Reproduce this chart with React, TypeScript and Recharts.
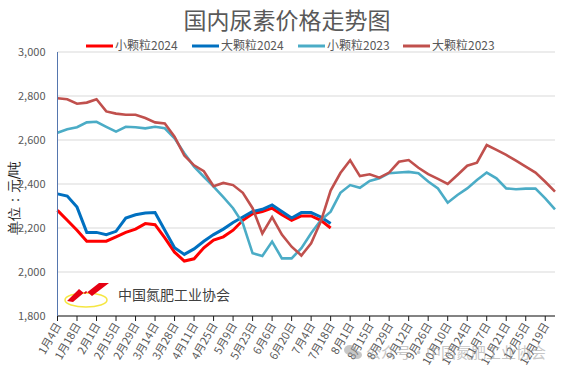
import React from "react";
import { LineChart, Line, XAxis, YAxis, CartesianGrid } from "recharts";

const categories = [
  "1月4日", "1月11日", "1月18日", "1月25日", "2月1日", "2月8日", "2月15日", "2月22日", "2月29日",
  "3月7日", "3月14日", "3月21日", "3月28日", "4月4日", "4月11日", "4月18日", "4月25日",
  "5月2日", "5月9日", "5月16日", "5月23日", "5月30日", "6月6日", "6月13日", "6月20日", "6月27日",
  "7月4日", "7月11日", "7月18日", "7月25日", "8月1日", "8月8日", "8月15日", "8月22日", "8月29日",
  "9月5日", "9月12日", "9月19日", "9月26日", "10月3日", "10月10日", "10月17日", "10月24日", "10月31日",
  "11月7日", "11月14日", "11月21日", "11月28日", "12月5日", "12月12日", "12月19日", "12月26日",
];

const small2024 = [
  2280, 2235, 2190, 2140, 2140, 2140, 2160, 2180, 2195, 2220, 2215, 2155, 2090, 2050, 2060,
  2110, 2145, 2160, 2190, 2235, 2265, 2275, 2290, 2260, 2235, 2255, 2255, 2235, 2200,
];

const large2024 = [
  2355, 2345, 2295, 2180, 2180, 2170, 2185, 2245, 2260, 2268, 2270, 2190, 2110, 2080, 2105,
  2140, 2170, 2195, 2225, 2250, 2275, 2285, 2305, 2275, 2245, 2270, 2270, 2250, 2220,
];

const small2023 = [
  2633, 2649, 2658, 2680, 2683, 2660, 2638, 2660, 2658, 2653, 2660, 2653, 2608, 2540, 2479,
  2433, 2388, 2340, 2290, 2221, 2085, 2073, 2138, 2062, 2062, 2108, 2176, 2236, 2274, 2360,
  2395, 2383, 2414, 2426, 2449, 2452, 2455, 2449, 2411, 2380, 2315, 2350, 2380, 2418, 2452,
  2426, 2380, 2376, 2379, 2379, 2335, 2285,
];

const large2023 = [
  2790, 2785, 2765, 2770, 2785, 2730, 2720, 2715, 2715, 2700, 2680, 2675, 2615, 2530, 2485,
  2458, 2390, 2405, 2395, 2360, 2290, 2175, 2250, 2170, 2115, 2075, 2130, 2230, 2370, 2450,
  2508, 2436, 2444, 2429, 2452, 2501, 2509, 2474, 2445, 2423, 2400, 2441, 2483, 2497, 2577,
  2555, 2532, 2506, 2479, 2452, 2410, 2365,
];

const yTicks = [1800, 2000, 2200, 2400, 2600, 2800, 3000];

const series = [
  { key: "small2024", name: "小颗粒2024", color: "#FF0000", width: 3, values: small2024 },
  { key: "large2024", name: "大颗粒2024", color: "#0070C0", width: 3, values: large2024 },
  { key: "small2023", name: "小颗粒2023", color: "#4BACC6", width: 2.6, values: small2023 },
  { key: "large2023", name: "大颗粒2023", color: "#C0504D", width: 2.6, values: large2023 },
];

const data = categories.map((c, i) => {
  const row: Record<string, string | number | null> = { date: c };
  series.forEach((s) => {
    row[s.key] = i < s.values.length ? s.values[i] : null;
  });
  return row;
});

const FONT = '"Noto Sans CJK SC", "Noto Sans", sans-serif';

const XTick = (props: any) => {
  const { x, y, payload } = props;
  return (
    <g transform={`translate(${x},${y})`}>
      <text
        x={0}
        y={0}
        transform="rotate(-60)"
        textAnchor="end"
        dominantBaseline="central"
        fill="#595959"
        fontSize={11}
        fontFamily={FONT}
      >
        {payload.value}
      </text>
    </g>
  );
};

const legendX = [86, 192, 298, 403];

export default function App() {
  return (
    <div style={{ position: "fixed", left: 0, top: 0, width: 561, height: 375, background: "#fff" }}>
      <LineChart
        width={561}
        height={375}
        data={data}
        margin={{ top: 52, right: 6, bottom: 0, left: 0 }}
      >
        <CartesianGrid horizontal={true} vertical={false} stroke="#D9D9D9" strokeWidth={1} />
        <XAxis
          dataKey="date"
          interval={1}
          height={59}
          tick={<XTick />}
          tickSize={5}
          tickMargin={2}
          axisLine={{ stroke: "#1a1a1a", strokeWidth: 1.2 }}
          tickLine={{ stroke: "#1a1a1a" }}
        />
        <YAxis
          width={57.5}
          domain={[1800, 3000]}
          ticks={yTicks}
          interval={0}
          tickFormatter={(v: number) => v.toLocaleString("en-US")}
          tick={{ fill: "#595959", fontSize: 11, fontFamily: FONT }}
          tickLine={false}
          tickSize={0}
          tickMargin={12}
          axisLine={{ stroke: "#5576AE", strokeWidth: 1 }}
        />
        {series.map((s) => (
          <Line
            key={s.key}
            type="linear"
            dataKey={s.key}
            name={s.name}
            stroke={s.color}
            strokeWidth={s.width}
            dot={false}
            activeDot={false}
            isAnimationActive={false}
            connectNulls={false}
          />
        ))}
      </LineChart>
      <svg
        width={561}
        height={375}
        style={{ position: "absolute", left: 0, top: 0, pointerEvents: "none" }}
      >
        <text x={287} y={29} textAnchor="middle" fontSize={23} fill="#595959" fontFamily={FONT}>
          国内尿素价格走势图
        </text>
        {series.map((s, i) => (
          <g key={s.key}>
            <line x1={legendX[i]} x2={legendX[i] + 27} y1={46} y2={46} stroke={s.color} strokeWidth={3} />
            <text x={legendX[i] + 29} y={50} fontSize={12} fill="#595959" fontFamily={FONT}>
              {s.name}
            </text>
          </g>
        ))}
        <text
          transform="translate(14,198) rotate(-90)"
          textAnchor="middle"
          dominantBaseline="central"
          fontSize={14}
          fill="#1a1a1a"
          fontFamily={'"DejaVu Serif", serif'}
        >
          单位：元/吨
        </text>
        <ellipse cx={86} cy={300} rx={21} ry={7} fill="none" stroke="#F5E642" strokeWidth={1.5} />
        <polygon
          points="67,301 79,289 85,294 99,283 109,283 92,296 86,291 73,302"
          fill="#E60012"
        />
        <text x={118} y={300} fontSize={14} fill="#404040" fontFamily={FONT}>
          中国氮肥工业协会
        </text>
        <g opacity={0.55}>
          <ellipse cx={350} cy={350} rx={6} ry={5} fill="#9a9a9a" />
          <ellipse cx={357} cy={355} rx={5} ry={4} fill="#9a9a9a" />
          <text x={366} y={358} fontSize={15} fill="#9a9a9a" fontFamily={FONT}>
            公众号·中国氮肥工业协会
          </text>
        </g>
      </svg>
    </div>
  );
}
